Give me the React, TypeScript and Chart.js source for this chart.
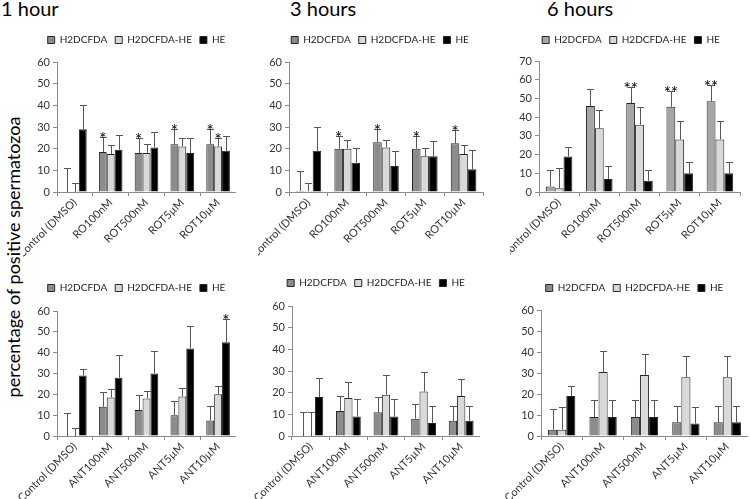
import React, { useEffect, useRef } from 'react';
import { Chart, registerables } from 'chart.js';

Chart.register(...registerables);

const FONT = 'Lato';

const seriesNames = ['H2DCFDA', 'H2DCFDA-HE', 'HE'];
const rotCategories = ['Control (DMSO)', 'RO100nM', 'ROT500nM', 'ROT5µM', 'ROT10µM'];
const antCategories = ['Control (DMSO)', 'ANT100nM', 'ANT500nM', 'ANT5µM', 'ANT10µM'];
const ticksTo60 = [0, 10, 20, 30, 40, 50, 60];
const ticksTo70 = [0, 10, 20, 30, 40, 50, 60, 70];

// ROT, 1 hour
const rot1H2 = [0, 18.5, 18, 22, 22];
const rot1H2Err = [11, 7, 7, 7, 7];
const rot1H2He = [0, 17.5, 18, 21, 21];
const rot1H2HeErr = [4, 4, 4, 4, 4];
const rot1He = [29, 19.5, 20.5, 18, 19];
const rot1HeErr = [11, 7, 7, 7, 7];
const rot1H2Sig = ['', '*', '*', '*', '*'];
const rot1H2HeSig = ['', '', '', '', '*'];
const rot1HeSig = ['', '', '', '', ''];

// ROT, 3 hours
const rot3H2 = [0.5, 20, 23, 20, 22.5];
const rot3H2Err = [9, 6, 6, 6, 6];
const rot3H2He = [0.3, 20, 20.5, 16.5, 17.5];
const rot3H2HeErr = [3.7, 4, 3.5, 4, 4];
const rot3He = [19, 13.5, 12, 16.5, 10.5];
const rot3HeErr = [11, 7, 7, 7, 9];
const rot3H2Sig = ['', '*', '*', '*', '*'];
const rot3H2HeSig = ['', '', '', '', ''];
const rot3HeSig = ['', '', '', '', ''];

// ROT, 6 hours
const rot6H2 = [3, 46, 47.5, 45.5, 48.5];
const rot6H2Err = [9, 9, 8.5, 8.5, 8.5];
const rot6H2He = [2, 34, 36, 28, 28];
const rot6H2HeErr = [11, 10, 9.5, 10, 10];
const rot6He = [19, 7, 6, 10, 10];
const rot6HeErr = [5, 7, 6, 6, 6];
const rot6H2Sig = ['', '', '**', '**', '**'];
const rot6H2HeSig = ['', '', '', '', ''];
const rot6HeSig = ['', '', '', '', ''];

// ANT, 1 hour
const ant1H2 = [0, 14, 12.5, 10, 7.5];
const ant1H2Err = [11, 7, 7, 7, 7];
const ant1H2He = [0, 18.5, 18, 19, 20];
const ant1H2HeErr = [4, 4, 3.5, 4, 4];
const ant1He = [29, 28, 30, 42, 45];
const ant1HeErr = [3, 11, 11, 11, 11];
const ant1H2Sig = ['', '', '', '', ''];
const ant1H2HeSig = ['', '', '', '', ''];
const ant1HeSig = ['', '', '', '', '*'];

// ANT, 3 hours
const ant3H2 = [0, 11.5, 11, 8, 7];
const ant3H2Err = [11, 7, 7, 7, 7];
const ant3H2He = [0, 17.5, 19, 20.5, 18.5];
const ant3H2HeErr = [11, 7.5, 9, 9, 8];
const ant3He = [18, 9, 9, 6, 7];
const ant3HeErr = [9, 8, 8, 8, 7];
const ant3Sig = ['', '', '', '', ''];

// ANT, 6 hours
const ant6H2 = [3, 9, 9, 6.5, 6.5];
const ant6H2Err = [10, 8, 8, 8, 8];
const ant6H2He = [3, 30.5, 29, 28, 28];
const ant6H2HeErr = [11, 10, 10, 10, 10];
const ant6He = [19, 9, 9, 6, 6.5];
const ant6HeErr = [5, 8, 8, 8, 8];
const ant6Sig = ['', '', '', '', ''];

const panelTitles = ['1 hour', '3 hours', '6 hours'];
const yAxisTitle = 'percentage of positive spermatozoa';

const errorBarPlugin = {
  id: 'errorBars',
  afterDatasetsDraw(chart: any) {
    const ctx = chart.ctx;
    const yScale = chart.scales.y;
    chart.data.datasets.forEach((ds: any, di: number) => {
      const meta = chart.getDatasetMeta(di);
      meta.data.forEach((bar: any, i: number) => {
        const v = ds.data[i];
        const e = ds.errors[i];
        const x = Math.round(bar.x) + 0.5;
        const y0 = yScale.getPixelForValue(v);
        const y1 = Math.round(yScale.getPixelForValue(v + e)) + 0.5;
        ctx.save();
        ctx.strokeStyle = '#555555';
        ctx.lineWidth = 1;
        ctx.beginPath();
        ctx.moveTo(x, y0);
        ctx.lineTo(x, y1);
        ctx.moveTo(x - 3.5, y1);
        ctx.lineTo(x + 3.5, y1);
        ctx.stroke();
        const s = ds.sig ? ds.sig[i] : '';
        if (s) {
          ctx.fillStyle = '#000';
          ctx.font = `17px ${FONT}`;
          ctx.textAlign = 'center';
          ctx.textBaseline = 'alphabetic';
          ctx.fillText(s, bar.x, y1 + 7);
        }
        ctx.restore();
      });
    });
  },
};

type PanelCfg = {
  x: number; y: number; w: number; h: number;
  padL: number; yW: number; rW: number; xH: number; gap: number;
  labels: string[]; ticks: number[];
  values: number[][]; errors: number[][]; sig: string[][];
  h2Color: string;
};

function Panel({ cfg }: { cfg: PanelCfg }) {
  const ref = useRef<HTMLCanvasElement | null>(null);
  useEffect(() => {
    if (!ref.current) return;
    const colors = [cfg.h2Color, '#d9d9d9', '#000000'];
    const chart = new Chart(ref.current, {
      type: 'bar',
      data: {
        labels: cfg.labels,
        datasets: seriesNames.map((name, k) => ({
          label: name,
          data: cfg.values[k],
          errors: cfg.errors[k],
          sig: cfg.sig[k],
          backgroundColor: colors[k],
          borderColor: '#262626',
          borderWidth: 1,
          categoryPercentage: 0.66,
          barPercentage: 1,
          yAxisID: 'y',
        })) as any,
      },
      options: {
        responsive: false,
        animation: false,
        devicePixelRatio: 1,
        layout: { padding: { left: cfg.padL, top: 0, right: 0, bottom: 0 } },
        plugins: {
          legend: {
            position: 'top',
            labels: {
              boxWidth: 7, boxHeight: 7, padding: 8,
              font: { family: FONT, size: 10 }, color: '#222',
            },
          },
          title: {
            display: true, text: '', weight: 500, padding: 0,
            font: { size: cfg.gap, lineHeight: 1 },
          } as any,
          tooltip: { enabled: false },
        },
        scales: {
          x: {
            grid: { drawOnChartArea: false, tickLength: 4, color: '#8a8a8a', offset: true },
            border: { color: '#8a8a8a' },
            ticks: {
              minRotation: 45, maxRotation: 45, padding: 0, autoSkip: false,
              font: { family: FONT, size: 11 }, color: '#333',
            },
            afterFit: (s: any) => { s.height = cfg.xH; s.paddingLeft = 0; s.paddingRight = 0; },
          },
          y: {
            min: 0,
            max: cfg.ticks[cfg.ticks.length - 1],
            afterBuildTicks: (s: any) => { s.ticks = cfg.ticks.map((v) => ({ value: v })); },
            grid: { drawOnChartArea: false, tickLength: 4, color: '#8a8a8a' },
            border: { color: '#8a8a8a' },
            ticks: { font: { family: FONT, size: 11 }, color: '#333', padding: 3 },
            afterFit: (s: any) => { s.width = cfg.yW; },
          },
          yR: {
            display: cfg.rW > 0,
            position: 'right',
            grid: { display: false },
            border: { display: false },
            ticks: { display: false },
            afterFit: (s: any) => { s.width = cfg.rW; },
          },
        },
      },
      plugins: [errorBarPlugin],
    } as any);
    return () => chart.destroy();
  }, [cfg]);
  return (
    <canvas
      ref={ref}
      width={cfg.w}
      height={cfg.h}
      style={{ position: 'absolute', left: cfg.x, top: cfg.y, width: cfg.w, height: cfg.h }}
    />
  );
}

const panels: PanelCfg[] = [
  {
    x: 23, y: 27, w: 213, h: 230, padL: 14, yW: 20, rW: 0, xH: 65, gap: 7,
    labels: rotCategories, ticks: ticksTo60,
    values: [rot1H2, rot1H2He, rot1He], errors: [rot1H2Err, rot1H2HeErr, rot1HeErr],
    sig: [rot1H2Sig, rot1H2HeSig, rot1HeSig], h2Color: '#8c8c8c',
  },
  {
    x: 258, y: 27, w: 233, h: 230, padL: 11, yW: 20, rW: 8, xH: 65, gap: 7,
    labels: rotCategories, ticks: ticksTo60,
    values: [rot3H2, rot3H2He, rot3He], errors: [rot3H2Err, rot3H2HeErr, rot3HeErr],
    sig: [rot3H2Sig, rot3H2HeSig, rot3HeSig], h2Color: '#8c8c8c',
  },
  {
    x: 510, y: 27, w: 233, h: 230, padL: 9, yW: 20, rW: 3, xH: 65, gap: 6,
    labels: rotCategories, ticks: ticksTo70,
    values: [rot6H2, rot6H2He, rot6He], errors: [rot6H2Err, rot6H2HeErr, rot6HeErr],
    sig: [rot6H2Sig, rot6H2HeSig, rot6HeSig], h2Color: '#a6a6a6',
  },
  {
    x: 5, y: 275, w: 231, h: 226, padL: 32, yW: 20, rW: 0, xH: 65, gap: 8,
    labels: antCategories, ticks: ticksTo60,
    values: [ant1H2, ant1H2He, ant1He], errors: [ant1H2Err, ant1H2HeErr, ant1HeErr],
    sig: [ant1H2Sig, ant1H2HeSig, ant1HeSig], h2Color: '#8c8c8c',
  },
  {
    x: 245, y: 270, w: 235, h: 231, padL: 27, yW: 20, rW: 0, xH: 65, gap: 8,
    labels: antCategories, ticks: ticksTo60,
    values: [ant3H2, ant3H2He, ant3He], errors: [ant3H2Err, ant3H2HeErr, ant3HeErr],
    sig: [ant3Sig, ant3Sig, ant3Sig], h2Color: '#8c8c8c',
  },
  {
    x: 495, y: 275, w: 253, h: 226, padL: 26, yW: 20, rW: 0, xH: 65, gap: 7,
    labels: antCategories, ticks: ticksTo60,
    values: [ant6H2, ant6H2He, ant6He], errors: [ant6H2Err, ant6H2HeErr, ant6HeErr],
    sig: [ant6Sig, ant6Sig, ant6Sig], h2Color: '#8c8c8c',
  },
];

const titleLefts = [1, 290, 547];

export default function App() {
  return (
    <div
      style={{
        position: 'absolute', left: 0, top: 0, width: 750, height: 499,
        overflow: 'hidden', background: '#fff', fontFamily: FONT,
      }}
    >
      {panelTitles.map((t, i) => (
        <div
          key={t}
          style={{
            position: 'absolute', left: titleLefts[i], top: -2, fontSize: 20,
            lineHeight: '20px', color: '#000', whiteSpace: 'nowrap',
          }}
        >
          {t}
        </div>
      ))}
      <div
        style={{
          position: 'absolute', left: 13 - 200, top: 257 - 12, width: 400, height: 24,
          lineHeight: '24px', textAlign: 'center', fontSize: 18, color: '#000',
          transform: 'rotate(-90deg)', whiteSpace: 'nowrap',
        }}
      >
        {yAxisTitle}
      </div>
      {panels.map((p, i) => (
        <Panel key={i} cfg={p} />
      ))}
    </div>
  );
}
